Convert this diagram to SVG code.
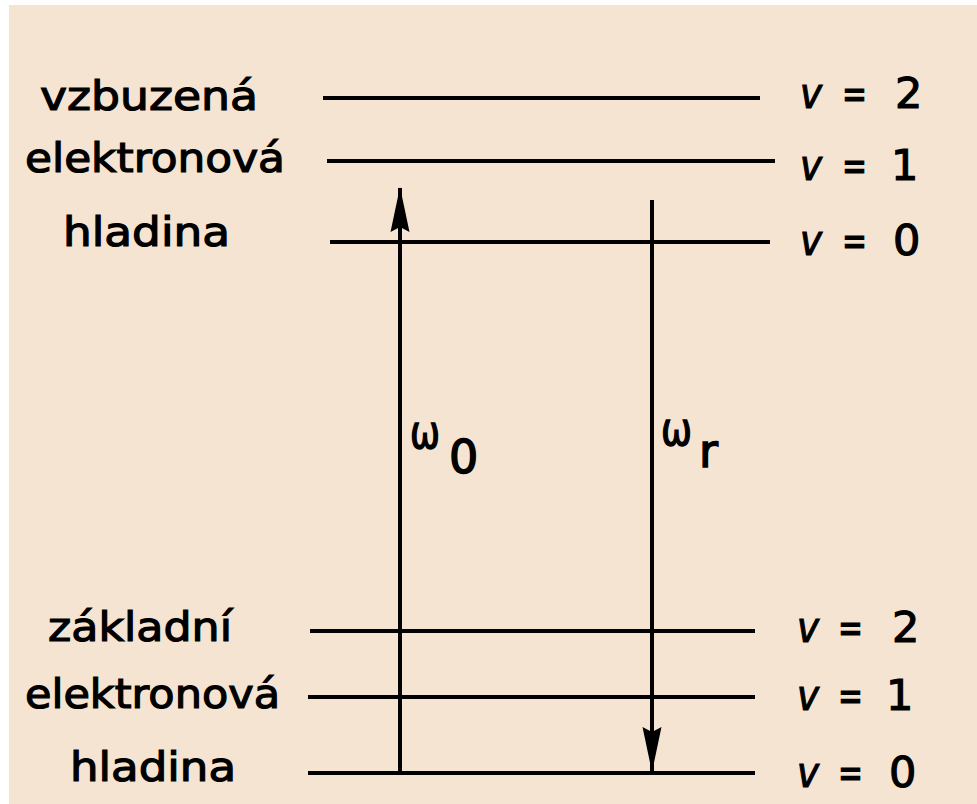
<svg xmlns="http://www.w3.org/2000/svg" width="977" height="804" viewBox="0 0 977 804">
<defs>
<style>
.lvl{stroke:#000;stroke-width:4;fill:none}
.ax{stroke:#000;stroke-width:4;fill:none}
.t{font-family:"DejaVu Sans","Liberation Sans",sans-serif;font-size:41px;fill:#000;stroke:#000;stroke-width:1.2}
.v{font-family:"DejaVu Sans","Liberation Sans",sans-serif;font-size:43px;fill:#000;stroke:#000;stroke-width:1.2}
.w{font-family:"DejaVu Sans","Liberation Sans",sans-serif;font-size:46px;fill:#000;stroke:#000;stroke-width:1.5}
.i{font-style:italic}
</style>
<marker id="ah" markerUnits="userSpaceOnUse" markerWidth="48" markerHeight="22" viewBox="0 0 48 22" refX="47" refY="11" orient="auto">
<path d="M48 11 L3 1.5 L8 11 L3 20.5 Z" fill="#000"/>
</marker>
</defs>
<rect x="0" y="0" width="977" height="804" fill="#fff"/>
<rect x="9" y="5" width="968" height="799" fill="#F5E4D1"/>
<g id="upper-levels">
<line class="lvl" x1="323" y1="98" x2="760" y2="98"/>
<line class="lvl" x1="327" y1="161" x2="775" y2="161"/>
<line class="lvl" x1="330" y1="242" x2="770" y2="242"/>
</g>
<g id="lower-levels">
<line class="lvl" x1="310" y1="631" x2="755" y2="631"/>
<line class="lvl" x1="308" y1="697" x2="755" y2="697"/>
<line class="lvl" x1="308" y1="773" x2="755" y2="773"/>
</g>
<g id="connectors">
<line class="ax" x1="400" y1="773" x2="400" y2="188" marker-end="url(#ah)"/>
<line class="ax" x1="652" y1="200" x2="652" y2="771" marker-end="url(#ah)"/>
</g>
<g id="upper-label">
<text class="t" x="40" y="110" textLength="218" lengthAdjust="spacingAndGlyphs">vzbuzená</text>
<text class="t" x="25" y="172" textLength="260" lengthAdjust="spacingAndGlyphs">elektronová</text>
<text class="t" x="63" y="246" textLength="167" lengthAdjust="spacingAndGlyphs">hladina</text>
</g>
<g id="lower-label">
<text class="t" x="48" y="641" textLength="184" lengthAdjust="spacingAndGlyphs">základní</text>
<text class="t" x="25" y="708" textLength="255" lengthAdjust="spacingAndGlyphs">elektronová</text>
<text class="t" x="70" y="781" textLength="166" lengthAdjust="spacingAndGlyphs">hladina</text>
</g>
<g id="upper-v">
<text class="v" y="108"><tspan class="i" x="800" textLength="22" lengthAdjust="spacingAndGlyphs">v</tspan><tspan x="842" textLength="25" lengthAdjust="spacingAndGlyphs">=</tspan><tspan x="895">2</tspan></text>
<text class="v" y="180"><tspan class="i" x="800" textLength="22" lengthAdjust="spacingAndGlyphs">v</tspan><tspan x="842" textLength="25" lengthAdjust="spacingAndGlyphs">=</tspan><tspan x="891">1</tspan></text>
<text class="v" y="255"><tspan class="i" x="800" textLength="22" lengthAdjust="spacingAndGlyphs">v</tspan><tspan x="842" textLength="25" lengthAdjust="spacingAndGlyphs">=</tspan><tspan x="893">0</tspan></text>
</g>
<g id="lower-v">
<text class="v" y="642"><tspan class="i" x="797" textLength="22" lengthAdjust="spacingAndGlyphs">v</tspan><tspan x="838" textLength="25" lengthAdjust="spacingAndGlyphs">=</tspan><tspan x="892">2</tspan></text>
<text class="v" y="710"><tspan class="i" x="797" textLength="22" lengthAdjust="spacingAndGlyphs">v</tspan><tspan x="838" textLength="25" lengthAdjust="spacingAndGlyphs">=</tspan><tspan x="886">1</tspan></text>
<text class="v" y="787"><tspan class="i" x="797" textLength="22" lengthAdjust="spacingAndGlyphs">v</tspan><tspan x="838" textLength="25" lengthAdjust="spacingAndGlyphs">=</tspan><tspan x="889">0</tspan></text>
</g>
<g id="omega0">
<text class="w" x="410" y="448" textLength="30" lengthAdjust="spacingAndGlyphs">ω</text>
<text class="w" x="449" y="473" font-size="44">0</text>
</g>
<g id="omegar">
<text class="w" x="661" y="445" textLength="31" lengthAdjust="spacingAndGlyphs">ω</text>
<text class="w" x="699" y="467" font-size="40">r</text>
</g>
</svg>
